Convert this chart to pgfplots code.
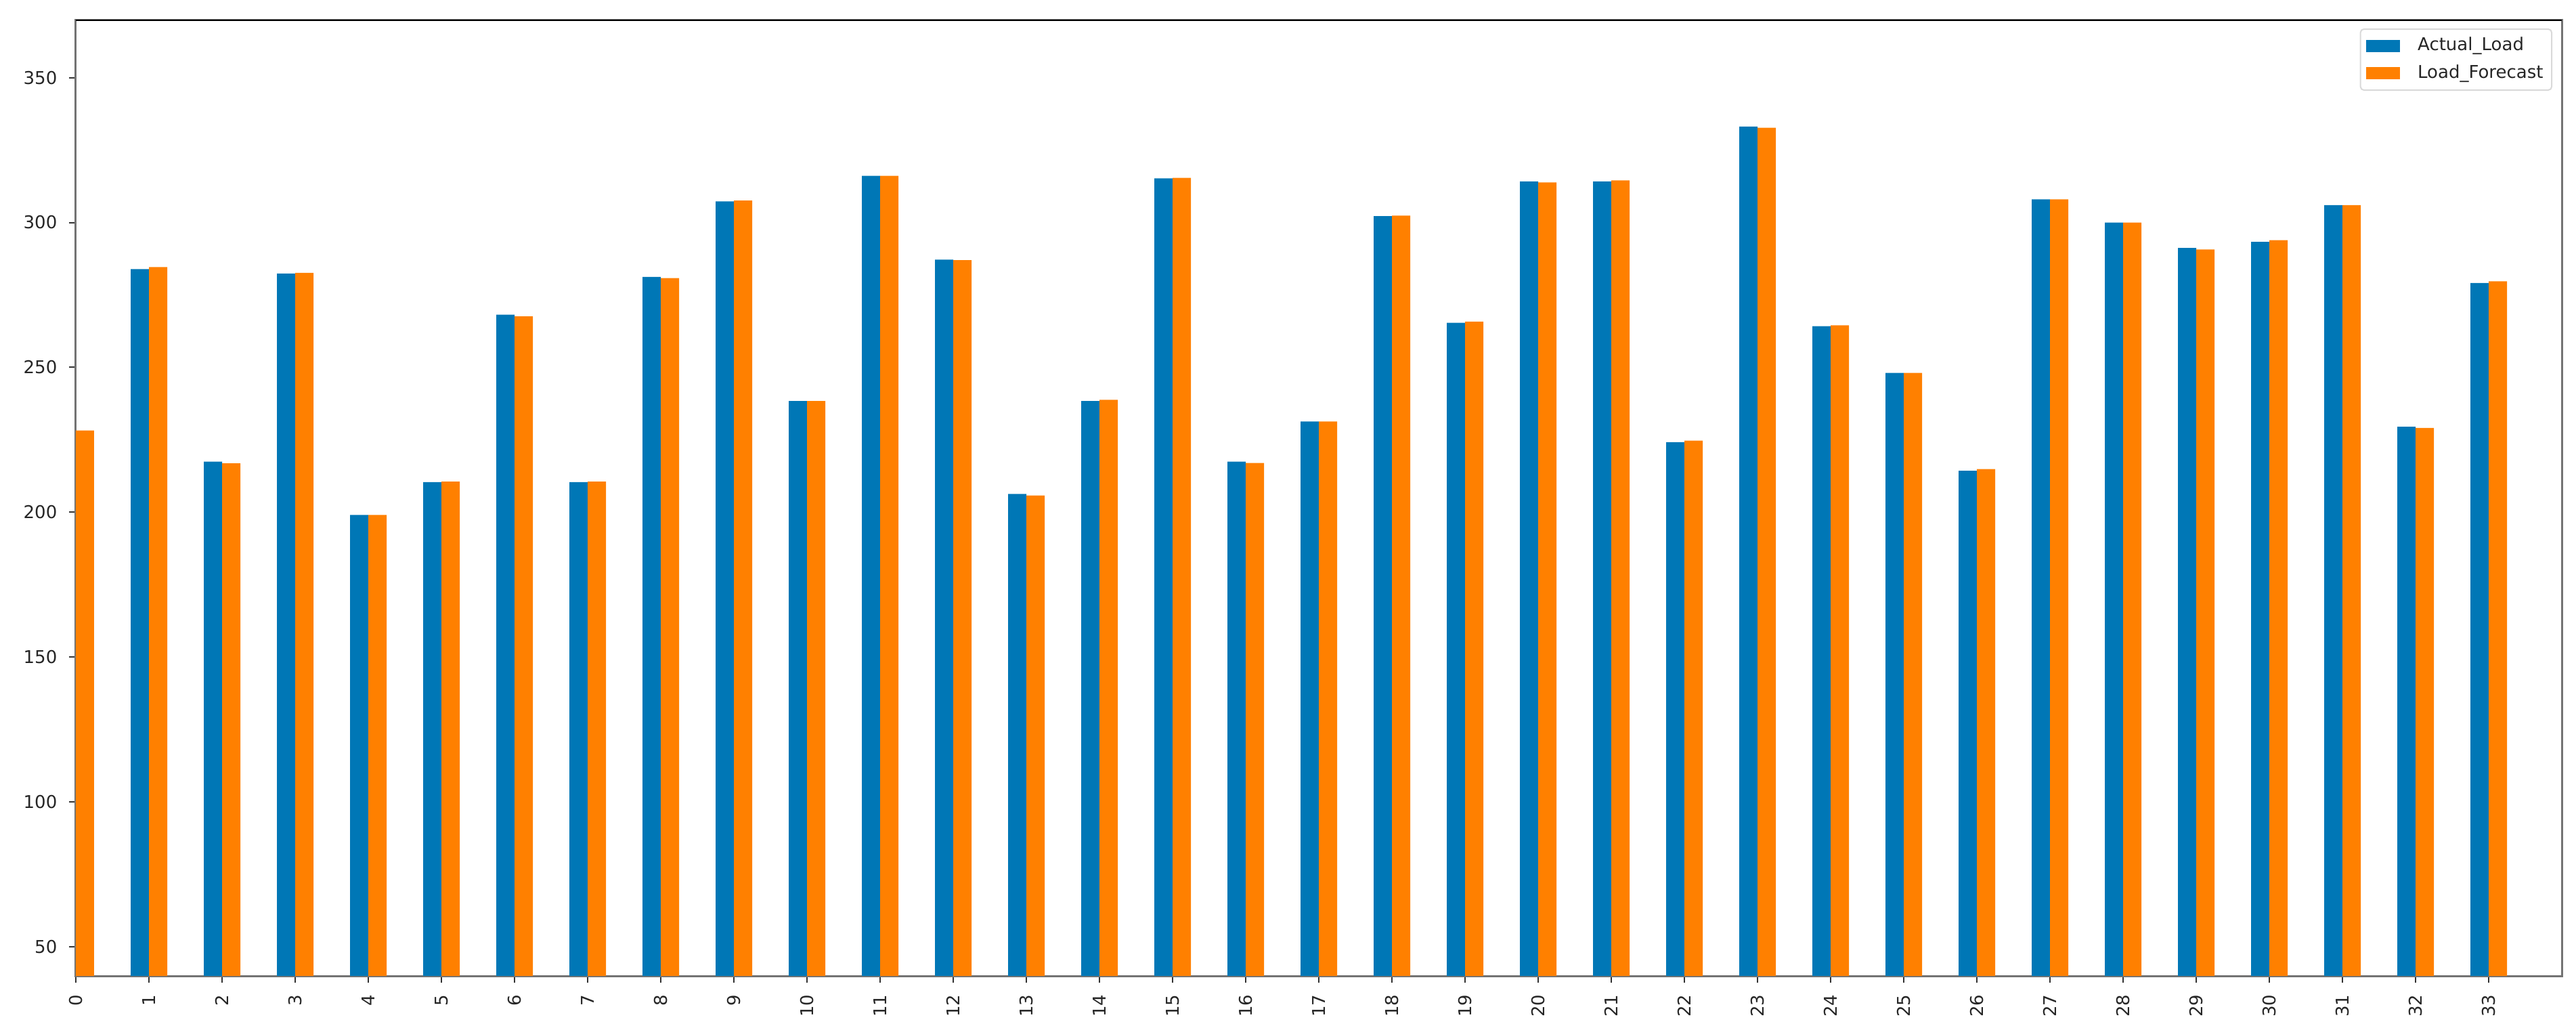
\documentclass[border=0pt]{standalone}
\usepackage{fontspec}
\setmainfont{DejaVu Sans}
\usepackage{pgfplots}
\pgfplotsset{compat=1.18}

\definecolor{mplblue}{RGB}{0,119,182}
\definecolor{mplorange}{RGB}{255,128,0}

\begin{document}
\begin{tikzpicture}
\begin{axis}[
  name=ax,
  width=734.4pt, height=282.4pt,
  scale only axis,
  ybar, bar width=0.25,
  xmin=0, xmax=34,
  ymin=40, ymax=370,
  xtick={0,...,33},
  ytick={50,100,...,350},
  xtick pos=left, ytick pos=left,
  tick align=outside,
  major tick length=2pt,
  tick style={black!80, line width=0.4pt},
  /pgf/number format/assume math mode=true,
  ticklabel style={font=\fontsize{5.2}{6.2}\selectfont, text=black!85},
  xticklabel style={rotate=90, anchor=east},
  axis line style={draw=black!55, line width=0.6pt},
  legend cell align=left,
  legend image code/.code={\path[#1, sharp corners] (0pt,-1.8pt) rectangle (10pt,1.8pt);},
  legend style={
    at={(1,1)}, anchor=north east, xshift=-2.8pt, yshift=-2.6pt,
    draw=black!15, rounded corners=1pt, fill=white,
    font=\fontsize{5.2}{6.2}\selectfont, text=black!85,
    inner sep=1.6pt, row sep=1.4pt, column sep=4.4pt,
    nodes={inner sep=0.9pt, text height=3.8pt, text depth=1.1pt},
  },
]
\addplot[draw=none, fill=mplblue, bar shift=-0.125] coordinates {
  (0,228.0) (1,283.9) (2,217.5) (3,282.4) (4,199.1) (5,210.4)
  (6,268.2) (7,210.4) (8,281.2) (9,307.3) (10,238.4) (11,316.1)
  (12,287.2) (13,206.3) (14,238.4) (15,315.2) (16,217.5) (17,231.3)
  (18,302.2) (19,265.4) (20,314.2) (21,314.2) (22,224.2) (23,333.1)
  (24,264.2) (25,248.1) (26,214.3) (27,308.0) (28,300.0) (29,291.2)
  (30,293.3) (31,306.0) (32,229.5) (33,279.1)
};
\addlegendentry{Actual\_Load}
\addplot[draw=none, fill=mplorange, bar shift=0.125] coordinates {
  (0,228.2) (1,284.6) (2,216.9) (3,282.6) (4,199.1) (5,210.6)
  (6,267.6) (7,210.6) (8,280.8) (9,307.6) (10,238.4) (11,316.1)
  (12,287.0) (13,205.8) (14,238.8) (15,315.4) (16,217.0) (17,231.3)
  (18,302.4) (19,265.8) (20,313.8) (21,314.5) (22,224.7) (23,332.7)
  (24,264.5) (25,248.1) (26,214.9) (27,308.0) (28,300.0) (29,290.7)
  (30,293.9) (31,306.0) (32,229.1) (33,279.7)
};
\addlegendentry{Load\_Forecast}
\draw[black, line width=0.6pt] (rel axis cs:0,1) -- (rel axis cs:1,1);
\end{axis}
\pgfresetboundingbox
\path (ax.south west) ++(-22.4pt,-14pt) (ax.north east) ++(4.2pt,5.8pt);
\end{tikzpicture}
\end{document}
